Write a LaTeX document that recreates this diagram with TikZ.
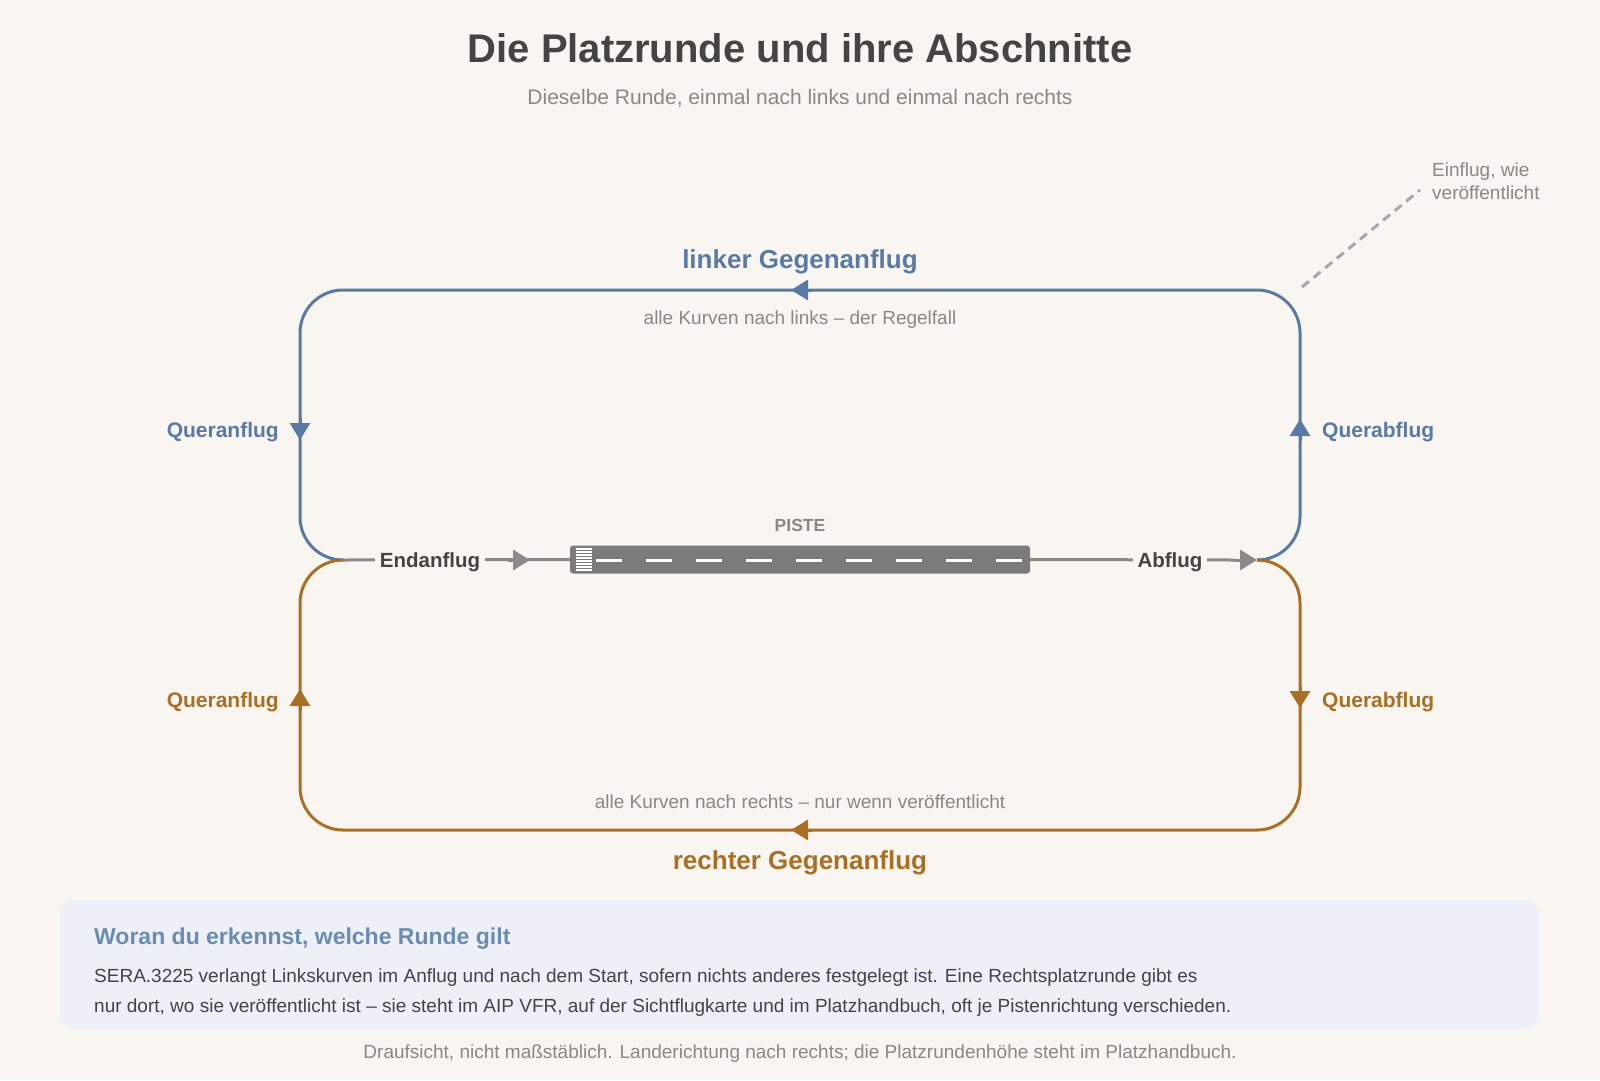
\documentclass[tikz,border=0pt]{standalone}
\usepackage{fontspec}
\setmainfont{Liberation Sans}
\usetikzlibrary{arrows.meta}
\definecolor{bg}{HTML}{F9F6F1}
\definecolor{pblue}{HTML}{5A7AA6}
\definecolor{porange}{HTML}{A86F25}
\definecolor{lgray}{HTML}{8A8A8A}
\definecolor{rwgray}{HTML}{7B7B7B}
\definecolor{darktxt}{HTML}{444444}
\definecolor{midtxt}{HTML}{888888}
\definecolor{boxfill}{HTML}{EDF0F7}
\definecolor{boxhead}{HTML}{6B8CB0}
\definecolor{dashcol}{HTML}{A3A9B3}
\newcommand\myfs[1]{\fontsize{#1}{#1}\selectfont}
\tikzset{
  txt/.style={inner sep=0pt, font=\myfs{19}, text=midtxt},
  boldlbl/.style={inner sep=0pt, font=\bfseries\myfs{21}},
  blueline/.style={draw=pblue, line width=3pt},
  orangeline/.style={draw=porange, line width=3pt},
  grayline/.style={draw=lgray, line width=3pt},
  tipb/.style={-{Triangle[length=17pt,width=20pt]}},
  seglabel/.style={inner xsep=5pt, inner ysep=2pt, fill=bg, font=\bfseries\myfs{20.5}, text=darktxt},
}
\begin{document}
\begin{tikzpicture}[x=1pt,y=-1pt]
\useasboundingbox (0,0) rectangle (1600,1080);
\fill[bg] (0,0) rectangle (1600,1080);

% titles
\node[inner sep=0pt, font=\bfseries\myfs{40}, text=darktxt] (title) at (800,48) {Die Platzrunde und ihre Abschnitte};
\node[txt, font=\myfs{21}] (subtitle) at (800,98) {Dieselbe Runde, einmal nach links und einmal nach rechts};

% loop geometry
\coordinate (jl) at (343,560);
\coordinate (jr) at (1257,560);
\coordinate (tl) at (300,290);
\coordinate (tr) at (1300,290);
\coordinate (bl) at (300,830);
\coordinate (br) at (1300,830);

% blue (left-hand) circuit
\draw[blueline, rounded corners=43pt] (jr) -| (tr) -| (tl |- jl) -- (jl);
% orange (right-hand) circuit
\draw[orangeline, rounded corners=43pt] (jr) -| (br) -| (bl |- jl) -- (jl);

% arrows on circuits
\draw[blueline, tipb] (812,290) -- (791,290);
\draw[blueline, tipb] (300,418) -- (300,440);
\draw[blueline, tipb] (1300,441) -- (1300,419);
\draw[orangeline, tipb] (1300,686) -- (1300,708);
\draw[orangeline, tipb] (300,711) -- (300,689);
\draw[orangeline, tipb] (812,830) -- (791,830);

% runway
\node[draw=none, fill=rwgray, rounded corners=3pt, minimum width=460pt, minimum height=28pt, inner sep=0pt] (rw) at (800,559.5) {};
\node[txt, font=\bfseries\myfs{17.5}] (piste) at (800,525) {PISTE};
\foreach \k in {0,...,7}{
  \draw[white, line width=1.4pt] (576,549+3*\k) -- (592,549+3*\k);
}
\foreach \k in {0,...,8}{
  \draw[white, line width=3pt] (596+50*\k,560) -- (622+50*\k,560);
}

% approach and departure legs
\draw[grayline] (jl) -- (rw.west);
\draw[grayline, tipb] (508,560) -- (530,560);
\node[seglabel] (endan) at (430,562) {Endanflug};
\draw[grayline] (rw.east) -- (1235,560);
\draw[grayline, tipb] (1234,560) -- (jr);
\node[seglabel] (abfl) at (1170,562) {Abflug};

% leg labels
\node[boldlbl, text=pblue, font=\bfseries\myfs{26}] (lgeg) at (800,262) {linker Gegenanflug};
\node[txt] (lnote) at (800,320) {alle Kurven nach links – der Regelfall};
\node[boldlbl, text=pblue, anchor=east] (lquer) at (279,432) {Queranflug};
\node[boldlbl, text=pblue, anchor=west] (lqab) at (1322,432) {Querabflug};
\node[boldlbl, text=porange, anchor=east] (rquer) at (279,702) {Queranflug};
\node[boldlbl, text=porange, anchor=west] (rqab) at (1322,702) {Querabflug};
\node[txt] (rnote) at (800,802) {alle Kurven nach rechts – nur wenn veröffentlicht};
\node[boldlbl, text=porange, font=\bfseries\myfs{26}] (rgeg) at (800,863) {rechter Gegenanflug};

% entry note
\coordinate (e1) at (1302,287);
\coordinate (e2) at (1420,190);
\draw[draw=dashcol, line width=3pt, dash pattern=on 9pt off 6pt] (e1) -- (e2);
\node[txt, anchor=base west] (ein1) at (1432,176) {Einflug, wie};
\node[txt, anchor=base west] (ein2) at (1432,199.5) {veröffentlicht};

% info box
\path[fill=boxfill, rounded corners=15pt] (60,900) rectangle (1539,1029);
\node[inner sep=0pt, anchor=west, font=\bfseries\myfs{23}, text=boxhead] (bhead) at (94,939) {Woran du erkennst, welche Runde gilt};
\node[inner sep=0pt, anchor=west, font=\myfs{19}, text=darktxt] (b1) at (94,978) {SERA.3225 verlangt Linkskurven im Anflug und nach dem Start, sofern nichts anderes festgelegt ist. Eine Rechtsplatzrunde gibt es};
\node[inner sep=0pt, anchor=west, font=\myfs{19}, text=darktxt] (b2) at (94,1008) {nur dort, wo sie veröffentlicht ist – sie steht im AIP VFR, auf der Sichtflugkarte und im Platzhandbuch, oft je Pistenrichtung verschieden.};

\node[txt] (foot) at (800,1054) {Draufsicht, nicht maßstäblich. Landerichtung nach rechts; die Platzrundenhöhe steht im Platzhandbuch.};
\end{tikzpicture}
\end{document}
